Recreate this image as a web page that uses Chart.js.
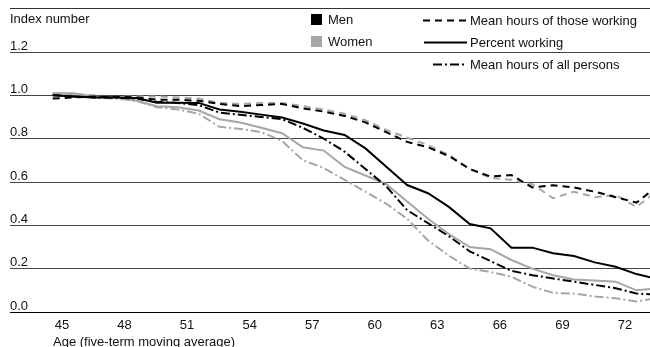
<!DOCTYPE html>
<html><head><meta charset="utf-8">
<script src="https://cdn.jsdelivr.net/npm/chart.js@4/dist/chart.umd.min.js"></script>
<style>html,body{margin:0;padding:0;background:#fff;}#wrap{width:650px;height:347px;}</style>
</head><body><div id="wrap"><canvas id="c" width="650" height="347"></canvas></div>
<script>
// ---- data ----
const ages = [44,45,46,47,48,49,50,51,52,53,54,55,56,57,58,59,60,61,62,63,64,65,66,67,68,69,70,71,72,73];
const tickLabels = [45,48,51,54,57,60,63,66,69,72];
const yTickValues = [0,0.2,0.4,0.6,0.8,1.0,1.2];

const menHoursWorking = [0.985,0.99,0.995,0.995,0.99,0.98,0.98,0.975,0.96,0.95,0.955,0.96,0.94,0.925,0.905,0.875,0.83,0.785,0.76,0.72,0.66,0.625,0.632,0.575,0.585,0.575,0.555,0.53,0.505,0.58];
const menPctWorking = [1.0,0.995,0.99,0.99,0.988,0.966,0.966,0.965,0.935,0.924,0.911,0.898,0.87,0.838,0.817,0.755,0.67,0.586,0.548,0.485,0.406,0.386,0.297,0.297,0.271,0.258,0.229,0.209,0.175,0.152];
const menHoursAll = [1.0,0.995,0.99,0.99,0.985,0.97,0.965,0.955,0.92,0.91,0.9,0.89,0.85,0.8,0.74,0.66,0.58,0.47,0.41,0.35,0.28,0.235,0.19,0.17,0.155,0.14,0.125,0.11,0.085,0.08];
const womenHoursWorking = [1.01,1.005,1.0,0.995,0.995,0.995,0.99,0.985,0.965,0.96,0.965,0.965,0.95,0.935,0.915,0.885,0.84,0.805,0.77,0.725,0.66,0.62,0.61,0.59,0.525,0.555,0.53,0.54,0.485,0.56];
const womenPctWorking = [1.01,1.01,0.995,0.99,0.975,0.95,0.945,0.93,0.89,0.875,0.85,0.825,0.76,0.745,0.67,0.63,0.59,0.51,0.43,0.36,0.3,0.29,0.24,0.2,0.17,0.15,0.145,0.14,0.1,0.11];
const womenHoursAll = [1.005,1.0,0.99,0.985,0.975,0.945,0.935,0.915,0.855,0.845,0.83,0.79,0.7,0.665,0.61,0.555,0.5,0.43,0.33,0.26,0.2,0.185,0.163,0.117,0.088,0.085,0.072,0.063,0.048,0.065];

const groupNames = ['Men','Women'];
const seriesNames = ['Mean hours of those working','Percent working','Mean hours of all persons'];

// ---- styles ----
const MEN = '#000000', WOMEN = '#a6a6a6';
const DASH = [7,5], SOLID = [], DASHDOT = [9,3,2,3];
const FONT = '13px "Liberation Sans", Arial, sans-serif';
const TEXT = '#111';
const LABEL_SHIFT = 0.554; // tick labels sit between the plotted points

function ds(label, values, color, dash) {
  return { label, data: values.map((v, i) => ({x: ages[i], y: v})), borderColor: color,
    borderWidth: 2, borderDash: dash, pointRadius: 0, tension: 0, fill: false };
}
const datasets = [
  ds('Men – ' + seriesNames[0], menHoursWorking, MEN, DASH),
  ds('Men – ' + seriesNames[1], menPctWorking, MEN, SOLID),
  ds('Men – ' + seriesNames[2], menHoursAll, MEN, DASHDOT),
  ds('Women – ' + seriesNames[0], womenHoursWorking, WOMEN, DASH),
  ds('Women – ' + seriesNames[1], womenPctWorking, WOMEN, SOLID),
  ds('Women – ' + seriesNames[2], womenHoursAll, WOMEN, DASHDOT),
];

const decor = {
  id: 'decor',
  afterDraw(chart) {
    const ctx = chart.ctx;
    ctx.save();
    // top rule
    ctx.fillStyle = '#333';
    ctx.fillRect(10, 8, 640, 1);
    ctx.font = FONT; ctx.fillStyle = TEXT; ctx.textBaseline = 'middle'; ctx.textAlign = 'left';
    ctx.fillText('Index number', 10, 19);
    // legend: groups
    ctx.fillStyle = MEN; ctx.fillRect(311, 14, 11, 11);
    ctx.fillStyle = WOMEN; ctx.fillRect(311, 36, 11, 11);
    ctx.fillStyle = TEXT;
    ctx.fillText(groupNames[0], 328, 20);
    ctx.fillText(groupNames[1], 328, 42);
    // legend: line styles
    const samples = [[DASH, 423, 20], [SOLID, 424, 42], [DASHDOT, 433, 64]];
    samples.forEach(([dash, x0, y], i) => {
      ctx.beginPath(); ctx.setLineDash(dash); ctx.lineWidth = 2; ctx.strokeStyle = '#000';
      ctx.moveTo(x0, y + 0.5); ctx.lineTo(467, y + 0.5); ctx.stroke();
      ctx.setLineDash([]);
      ctx.fillStyle = TEXT;
      ctx.fillText(seriesNames[i], 470, y + 1);
    });
    // x axis title
    ctx.textBaseline = 'alphabetic';
    ctx.fillText('Age (five-term moving average)', 53, 346);
    ctx.restore();
  }
};

new Chart(document.getElementById('c'), {
  type: 'line',
  data: { datasets },
  options: {
    responsive: false, animation: false, devicePixelRatio: 1,
    layout: { padding: { left: 10, right: 0, top: 52, bottom: 0 } },
    plugins: { legend: { display: false }, tooltip: { enabled: false } },
    scales: {
      x: {
        type: 'linear', min: 41.952, max: 72.647,
        afterBuildTicks: s => { s.ticks = tickLabels.map(t => ({ value: t - LABEL_SHIFT })); },
        afterFit: s => { s.height = 35; },
        grid: { display: false, drawTicks: false },
        border: { display: false },
        ticks: { font: { family: '"Liberation Sans", Arial, sans-serif', size: 13 }, color: TEXT, padding: 6,
          maxRotation: 0, autoSkip: false, callback: (v, i) => String(tickLabels[i]) }
      },
      y: {
        min: 0, max: 1.2,
        afterBuildTicks: s => { s.ticks = yTickValues.map(v => ({ value: v })); },
        afterFit: s => { s.width = 0; },
        grid: { color: c => (c.tick && c.tick.value === 0 ? '#000' : '#444'), lineWidth: 1, drawTicks: false },
        border: { display: false },
        ticks: { mirror: true, padding: 0, labelOffset: -6, font: { family: '"Liberation Sans", Arial, sans-serif', size: 13 },
          color: TEXT, callback: v => Number(v).toFixed(1) }
      }
    }
  },
  plugins: [decor]
});
</script></body></html>
